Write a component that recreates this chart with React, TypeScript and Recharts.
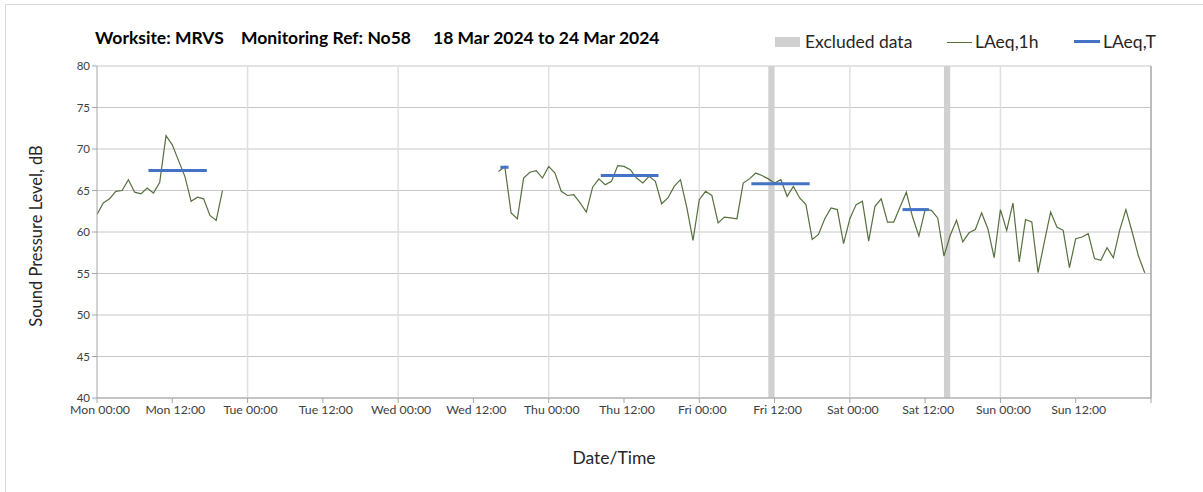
import React from 'react';
import {
  ComposedChart,
  Line,
  XAxis,
  YAxis,
  CartesianGrid,
  ReferenceArea,
  ReferenceLine,
} from 'recharts';

// Hourly LAeq,1h values, hours counted from Mon 18 Mar 2024 00:00
const mondayStartHour = 0;
const mondayValues = [
  62.1, 63.5, 64.0, 64.9, 65.0, 66.3, 64.8, 64.6, 65.3, 64.7, 66.0, 71.6, 70.5,
  68.6, 66.7, 63.7, 64.2, 64.0, 62.0, 61.4, 65.0,
];

const midweekStartHour = 64;
const midweekValues = [
  67.3, 67.9, 62.3, 61.6, 66.5, 67.2, 67.4, 66.5, 67.9, 67.1, 64.9, 64.4, 64.5,
  63.5, 62.4, 65.4, 66.4, 65.7, 66.1, 68.0, 67.9, 67.5, 66.5, 65.9, 66.7, 66.1,
  63.4, 64.1, 65.5, 66.3, 63.0, 59.0, 63.9, 64.9, 64.4, 61.1, 61.8, 61.7, 61.6,
  65.9, 66.4, 67.1, 66.8, 66.4, 65.9, 66.3, 64.3, 65.5, 64.1, 63.3, 59.1, 59.7,
  61.6, 62.9, 62.7, 58.6, 61.6, 63.3, 63.7, 58.9, 63.1, 64.0, 61.2, 61.2, 63.0,
  64.8, 61.8, 59.5, 62.7, 62.6, 61.7, 57.1, 59.6, 61.4, 58.8, 59.9, 60.3, 62.3,
  60.4, 56.9, 62.7, 60.2, 63.5, 56.4, 61.5, 61.2, 55.1, 58.8, 62.4, 60.6, 60.2,
  55.7, 59.2, 59.4, 59.8, 56.8, 56.6, 58.1, 56.9, 60.2, 62.7, 60.0, 57.1, 55.1,
];

// LAeq,T period levels: start hour, end hour, level
const periodStarts = [8.2, 64.3, 80.3, 104.3, 128.4];
const periodEnds = [17.5, 65.6, 89.5, 113.6, 132.6];
const periodLevels = [67.4, 67.8, 66.8, 65.8, 62.7];

// Excluded data intervals (hours)
const excludedStarts = [107, 135];
const excludedEnds = [108, 136];

const xTickHours = [0, 12, 24, 36, 48, 60, 72, 84, 96, 108, 120, 132, 144, 156, 168];
const xTickLabels = [
  'Mon 00:00', 'Mon 12:00', 'Tue 00:00', 'Tue 12:00', 'Wed 00:00', 'Wed 12:00',
  'Thu 00:00', 'Thu 12:00', 'Fri 00:00', 'Fri 12:00', 'Sat 00:00', 'Sat 12:00',
  'Sun 00:00', 'Sun 12:00', '',
];
const dayBoundaries = [24, 48, 72, 96, 120, 144];
const yTicks = [40, 45, 50, 55, 60, 65, 70, 75, 80];

const totalHours = 168;
const hourly: { t: number; v: number | null }[] = [];
for (let h = 0; h < totalHours; h++) {
  let v: number | null = null;
  if (h >= mondayStartHour && h < mondayStartHour + mondayValues.length) v = mondayValues[h - mondayStartHour];
  if (h >= midweekStartHour && h < midweekStartHour + midweekValues.length) v = midweekValues[h - midweekStartHour];
  hourly.push({ t: h, v });
}

const periods = periodStarts.map((s, i) => [
  { t: s, p: periodLevels[i] },
  { t: periodEnds[i], p: periodLevels[i] },
]);

const FONT = 'Lato, "Open Sans", sans-serif';
const GREEN = '#56703f';
const BLUE = '#4472c4';

export default function App() {
  return (
    <div style={{ position: 'absolute', left: 0, top: 0, width: 1203, height: 492, background: '#fff', fontFamily: FONT, overflow: 'hidden' }}>
      <div style={{ position: 'absolute', left: 5, top: 4, width: 1300, height: 600, borderLeft: '1px solid #d9d9d9', borderTop: '1px solid #d9d9d9' }} />
      <div style={{ position: 'absolute', left: 95, top: 27, fontSize: 17.5, lineHeight: '22px', fontWeight: 700, color: '#000', whiteSpace: 'nowrap' }}>
        <span style={{ position: 'absolute', left: 0 }}>Worksite: MRVS</span>
        <span style={{ position: 'absolute', left: 146 }}>Monitoring Ref: No58</span>
        <span style={{ position: 'absolute', left: 338 }}>18 Mar 2024 to 24 Mar 2024</span>
      </div>
      <div style={{ position: 'absolute', left: 775, top: 37, width: 25, height: 10, background: '#d0d0d0' }} />
      <div style={{ position: 'absolute', left: 805, top: 31, fontSize: 17.5, lineHeight: '22px', color: '#262626' }}>Excluded data</div>
      <div style={{ position: 'absolute', left: 947, top: 42, width: 25, height: 1, background: GREEN }} />
      <div style={{ position: 'absolute', left: 975, top: 31, fontSize: 17.5, lineHeight: '22px', color: '#262626' }}>LAeq,1h</div>
      <div style={{ position: 'absolute', left: 1074, top: 40, width: 26, height: 3, background: BLUE }} />
      <div style={{ position: 'absolute', left: 1103, top: 31, fontSize: 17.5, lineHeight: '22px', color: '#262626' }}>LAeq,T</div>
      <div style={{ position: 'absolute', left: 36, top: 236, transform: 'translate(-50%, -50%) rotate(-90deg)', fontSize: 16.5, color: '#262626', whiteSpace: 'nowrap' }}>
        Sound Pressure Level, dB
      </div>
      <div style={{ position: 'absolute', left: 614, top: 457, transform: 'translate(-50%, -50%)', fontSize: 17.5, color: '#262626', whiteSpace: 'nowrap' }}>
        Date/Time
      </div>
      <div style={{ position: 'absolute', left: 0, top: 0 }}>
        <ComposedChart width={1203} height={492} data={hourly} margin={{ top: 66, right: 52, bottom: 64, left: 0 }}>
          <CartesianGrid vertical={false} stroke="#c8c8c8" strokeWidth={1} />
          {dayBoundaries.map((d) => (
            <ReferenceLine key={d} x={d} stroke="#e0e0e0" strokeWidth={1.5} />
          ))}
          <ReferenceLine x={168} stroke="#a6a6a6" strokeWidth={1.5} />
          {excludedStarts.map((s, i) => (
            <ReferenceArea key={s} x1={s} x2={excludedEnds[i]} y1={40} y2={80} fill="#d0d0d0" fillOpacity={1} stroke="none" />
          ))}
          <XAxis
            dataKey="t"
            type="number"
            domain={[0, 168]}
            ticks={xTickHours}
            tickFormatter={(v: number) => xTickLabels[xTickHours.indexOf(v)]}
            interval={0}
            height={30}
            stroke="#a6a6a6"
            tickSize={5}
            tick={{ fill: '#404040', fontSize: 12.3, fontFamily: FONT, dx: 3 }}
            allowDataOverflow
          />
          <YAxis
            type="number"
            domain={[40, 80]}
            ticks={yTicks}
            width={97}
            stroke="#a6a6a6"
            tickSize={5}
            tick={{ fill: '#404040', fontSize: 11.5, fontFamily: FONT }}
            interval={0}
          />
          <Line
            dataKey="v"
            stroke={GREEN}
            strokeWidth={1.2}
            dot={false}
            connectNulls={false}
            isAnimationActive={false}
          />
          {periods.map((seg, i) => (
            <Line
              key={i}
              data={seg}
              dataKey="p"
              stroke={BLUE}
              strokeWidth={3}
              dot={false}
              isAnimationActive={false}
            />
          ))}
        </ComposedChart>
      </div>
    </div>
  );
}
